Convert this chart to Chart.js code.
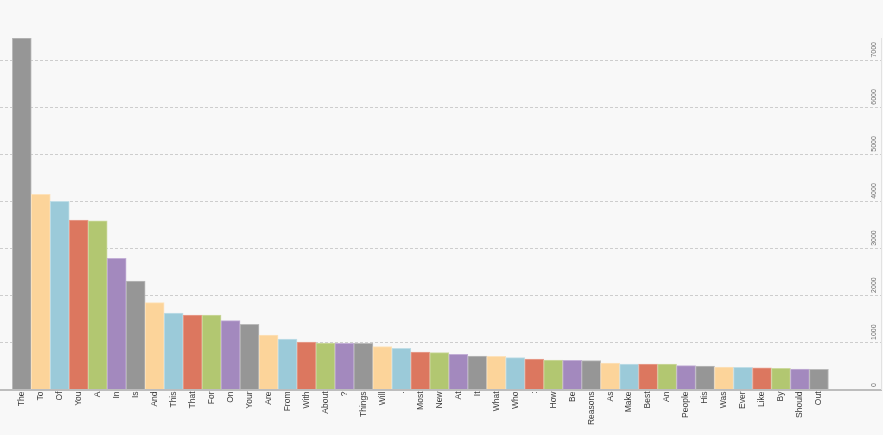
<!DOCTYPE html>
<html>
<head>
<meta charset="utf-8">
<script src="https://cdn.jsdelivr.net/npm/chart.js@4"></script>
<style>
  html, body { margin: 0; padding: 0; background: #f8f8f8; }
  #wrap { width: 883px; height: 435px; position: relative; }
</style>
</head>
<body>
<div id="wrap"><canvas id="wordChart"></canvas></div>
<script>
// Word counts
const categories = ['The', 'To', 'Of', 'You', 'A', 'In', 'Is', 'And', 'This', 'That', 'For', 'On', 'Your', 'Are',
    'From', 'With', 'About', '?', 'Things', 'Will', '.', 'Most', 'New', 'At', 'It', 'What', 'Who', ':', 'How', 'Be',
    'Reasons', 'As', 'Make', 'Best', 'An', 'People', 'His', 'Was', 'Ever', 'Like', 'By', 'Should', 'Out'];
const counts = [7470, 4150, 4000, 3603, 3582, 2789, 2306, 1845, 1626, 1584, 1584, 1463, 1386, 1158,
    1073, 1010, 988, 982, 982, 910, 875, 797, 782, 748, 712, 705, 676, 648, 627, 620,
    613, 563, 542, 542, 538, 506, 499, 478, 471, 460, 450, 436, 429];
const yTicks = [0, 1000, 2000, 3000, 4000, 5000, 6000, 7000];

const fills = ['#969696', '#fcd49a', '#9bcad9', '#dc775f', '#b2c771', '#a389be'];
const edges = ['#bababa', '#fde2bb', '#c0dee7', '#e9a190', '#ccd99f', '#c3afd6'];

// Rotated value labels sitting just above each gridline on the right
const yLabelPlugin = {
    id: 'yLabels',
    afterDraw(chart) {
        const ctx = chart.ctx;
        const y = chart.scales.y;
        ctx.save();
        ctx.font = '7px "Liberation Sans"';
        ctx.fillStyle = '#6f6f6f';
        ctx.textAlign = 'left';
        ctx.textBaseline = 'middle';
        yTicks.forEach(t => {
            ctx.save();
            ctx.translate(874, y.getPixelForValue(t) - 2.5);
            ctx.rotate(-Math.PI / 2);
            ctx.fillText(String(t), 0, 0);
            ctx.restore();
        });
        ctx.restore();
    }
};

const ctx = document.getElementById('wordChart').getContext('2d');
new Chart(ctx, {
    type: 'bar',
    data: {
        datasets: [{
            data: counts.map((v, i) => ({ x: i, y: v })),
            backgroundColor: counts.map((_, i) => fills[i % fills.length]),
            borderColor: counts.map((_, i) => edges[i % edges.length]),
            borderWidth: 1,
            barPercentage: 1,
            categoryPercentage: 1
        }]
    },
    options: {
        responsive: true,
        maintainAspectRatio: false,
        animation: false,
        layout: { padding: { top: 38, right: 2, left: 0, bottom: 0 } },
        plugins: {
            legend: { display: false },
            tooltip: { enabled: false }
        },
        scales: {
            x: {
                type: 'linear',
                min: -1.148,
                max: 45.27,
                offset: false,
                grid: { display: false, drawTicks: false, offset: false },
                border: { display: true, color: '#bdbdbd', width: 2 },
                afterBuildTicks: scale => {
                    scale.ticks = categories.map((_, i) => ({ value: i }));
                },
                afterFit: scale => { scale.height = 45.5; },
                ticks: {
                    stepSize: 1,
                    autoSkip: false,
                    minRotation: 90,
                    maxRotation: 90,
                    padding: 2,
                    color: '#3a3a3a',
                    font: { family: '"Liberation Sans"', size: 8.5 },
                    callback: value => categories[value] ?? ''
                }
            },
            y: {
                position: 'right',
                min: 0,
                max: Math.max(...counts),
                afterBuildTicks: scale => {
                    scale.ticks = yTicks.map(v => ({ value: v }));
                },
                grid: {
                    drawTicks: false,
                    color: c => (c.tick && c.tick.value === 0) ? 'rgba(0,0,0,0)' : '#cdcdcd',
                    lineWidth: 1
                },
                border: { display: true, color: '#e2e2e2', width: 1, dash: [3, 2] },
                ticks: { display: false }
            }
        }
    },
    plugins: [yLabelPlugin]
});
</script>
</body>
</html>
